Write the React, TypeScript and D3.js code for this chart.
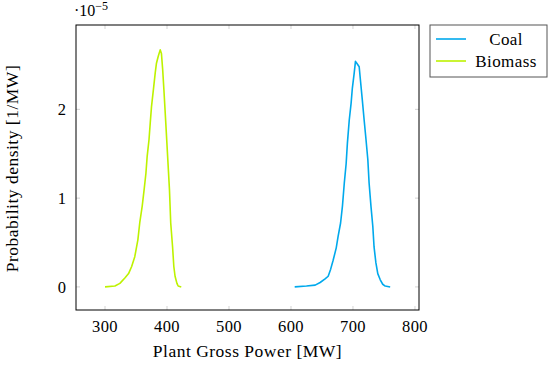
import React, { useEffect, useRef } from 'react'
import * as d3 from 'd3'

// power [MW] and probability density [1e-5 / MW]
const coalPower = [606, 625, 639, 647, 655, 660, 664, 668, 673, 676, 680, 683, 686, 689, 691, 694, 697, 699, 702, 704, 707, 710, 712, 715, 718, 721, 724, 726, 729, 732, 734, 737, 740, 744, 748, 752, 760]
const coalDensity = [0, 0.01, 0.02, 0.05, 0.09, 0.12, 0.2, 0.3, 0.44, 0.57, 0.72, 0.91, 1.17, 1.39, 1.62, 1.88, 2.07, 2.24, 2.41, 2.54, 2.51, 2.48, 2.33, 2.11, 1.88, 1.66, 1.43, 1.17, 0.91, 0.68, 0.45, 0.27, 0.15, 0.08, 0.03, 0.01, 0]
const biomassPower = [300, 316, 324, 332, 338, 343, 348, 353, 356, 360, 363, 366, 368, 371, 373, 375, 378, 381, 383, 386, 389, 391, 393, 395, 398, 401, 404, 406, 409, 411, 413, 416, 418, 423]
const biomassDensity = [0, 0.01, 0.04, 0.1, 0.15, 0.23, 0.34, 0.53, 0.72, 0.91, 1.09, 1.28, 1.47, 1.66, 1.85, 2.03, 2.22, 2.41, 2.52, 2.6, 2.67, 2.63, 2.45, 2.22, 1.85, 1.47, 1.09, 0.72, 0.45, 0.23, 0.12, 0.04, 0.01, 0]

const seriesNames = ['Coal', 'Biomass']
const seriesColors = ['#00a9ec', '#bdf200']
const xTicks = [300, 400, 500, 600, 700, 800]
const yTicks = [0, 1, 2]

const FONT = "'Liberation Serif', serif"

export default function App() {
  const ref = useRef<SVGSVGElement>(null)

  useEffect(() => {
    const W = 550, H = 365
    const margin = { top: 25, right: 131, bottom: 55, left: 76 }
    const width = W - margin.left - margin.right
    const height = H - margin.top - margin.bottom

    const svgSel = d3.select(ref.current)
    svgSel.selectAll('*').remove()
    const svg = svgSel.append('g').attr('transform', `translate(${margin.left},${margin.top})`)

    const x = d3.scaleLinear().domain([253.2, 806.5]).range([0, width])
    const y = d3.scaleLinear().domain([-0.26, 2.95]).range([height, 0])

    // ticks inside, on all four sides
    const tickLen = 4
    const tk = svg.append('g').attr('stroke', '#c8c8c8').attr('stroke-width', 0.8)
    xTicks.forEach(t => {
      tk.append('line').attr('x1', x(t)).attr('x2', x(t)).attr('y1', height).attr('y2', height - tickLen)
      tk.append('line').attr('x1', x(t)).attr('x2', x(t)).attr('y1', 0).attr('y2', tickLen)
    })
    yTicks.forEach(t => {
      tk.append('line').attr('x1', 0).attr('x2', tickLen).attr('y1', y(t)).attr('y2', y(t))
      tk.append('line').attr('x1', width).attr('x2', width - tickLen).attr('y1', y(t)).attr('y2', y(t))
    })

    // tick labels
    svg.append('g').selectAll('text').data(xTicks).enter().append('text')
      .attr('x', d => x(d)).attr('y', height + 22)
      .attr('text-anchor', 'middle')
      .style('font', `16.5px ${FONT}`).style('letter-spacing', '0.4px')
      .text(d => d)
    svg.append('g').selectAll('text').data(yTicks).enter().append('text')
      .attr('x', -10).attr('y', d => y(d)).attr('dy', '0.35em')
      .attr('text-anchor', 'end')
      .style('font', `16.5px ${FONT}`)
      .text(d => d)

    // scale factor
    const sf = svg.append('text').attr('x', -2).attr('y', -9).style('font', `16px ${FONT}`)
    sf.append('tspan').text('·10')
    sf.append('tspan').attr('dy', -6).style('font-size', '12px').text('−5')

    // curves
    const line = d3.line<[number, number]>().x(d => x(d[0])).y(d => y(d[1]))
    const series = [
      coalPower.map((p, i) => [p, coalDensity[i]] as [number, number]),
      biomassPower.map((p, i) => [p, biomassDensity[i]] as [number, number]),
    ]
    series.forEach((s, i) => {
      svg.append('path').datum(s)
        .attr('d', line)
        .attr('fill', 'none')
        .attr('stroke', seriesColors[i])
        .attr('stroke-width', 1.6)
        .attr('stroke-linejoin', 'round')
    })

    // frame
    svg.append('rect').attr('width', width).attr('height', height)
      .attr('fill', 'none').attr('stroke', '#000').attr('stroke-width', 1)

    // axis titles
    svg.append('text')
      .attr('x', width / 2).attr('y', height + 47)
      .attr('text-anchor', 'middle')
      .style('font', `17.5px ${FONT}`).style('letter-spacing', '0.5px')
      .text('Plant Gross Power [MW]')
    svg.append('text')
      .attr('transform', `translate(${-58},${height / 2 + 1}) rotate(-90)`)
      .attr('text-anchor', 'middle')
      .style('font', `17.5px ${FONT}`).style('letter-spacing', '0.5px')
      .text('Probability density [1/MW]')

    // legend
    const lg = svg.append('g').attr('transform', `translate(${width + 11},0)`)
    lg.append('rect').attr('width', 117).attr('height', 52)
      .attr('fill', '#fff').attr('stroke', '#555').attr('stroke-width', 1)
    seriesNames.forEach((n, i) => {
      const yy = 14 + i * 22
      lg.append('line').attr('x1', 6).attr('x2', 36).attr('y1', yy).attr('y2', yy)
        .attr('stroke', seriesColors[i]).attr('stroke-width', 1.6)
      lg.append('text').attr('x', 76).attr('y', yy).attr('dy', '0.35em')
        .attr('text-anchor', 'middle')
        .style('font', `17px ${FONT}`).style('letter-spacing', '0.4px')
        .text(n)
    })
  }, [])

  return (
    <svg ref={ref} width={550} height={365}
      style={{ position: 'absolute', left: 0, top: 0, display: 'block', background: '#fff' }} />
  )
}
